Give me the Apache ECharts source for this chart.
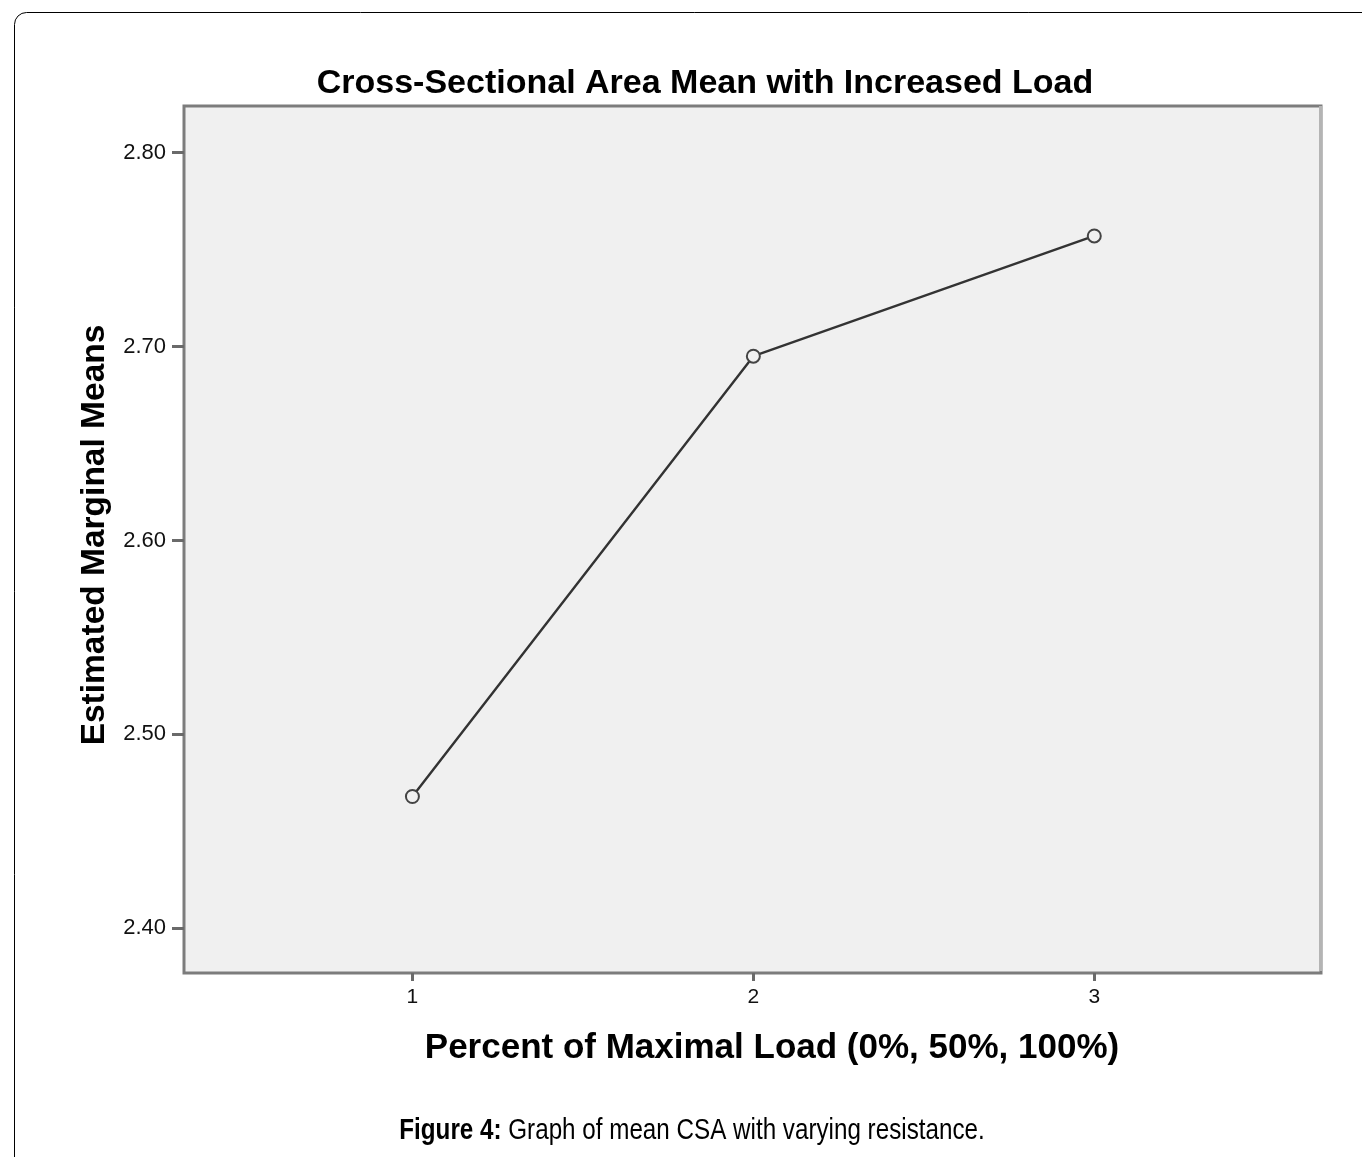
<!DOCTYPE html>
<html>
<head>
<meta charset="utf-8">
<script src="https://cdn.jsdelivr.net/npm/echarts@6/dist/echarts.min.js"></script>
<style>
html,body{margin:0;padding:0;background:#fff;}
#chart{width:1362px;height:1157px;}
</style>
</head>
<body>
<div id="chart"></div>
<script>
// ---- data ----
const categories = [1, 2, 3];
const meanValues = [2.468, 2.695, 2.757];
const yTickValues = [2.40, 2.50, 2.60, 2.70, 2.80];
const xTickValues = [1, 2, 3];

const titleText = 'Cross-Sectional Area Mean with Increased Load';
const xAxisTitle = 'Percent of Maximal Load (0%, 50%, 100%)';
const yAxisTitle = 'Estimated Marginal Means';
const captionBold = 'Figure 4:';
const captionRest = ' Graph of mean CSA with varying resistance.';

const seriesData = categories.map((c, i) => [c, meanValues[i]]);

const chart = echarts.init(document.getElementById('chart'), null, {renderer: 'canvas'});
const font = '"Liberation Sans", Arial, sans-serif';

chart.setOption({
  backgroundColor: '#ffffff',
  animation: false,
  grid: {
    left: 184, top: 106, right: 41, bottom: 184,
    show: true,
    backgroundColor: '#f0f0f0',
    borderColor: '#7c7c7c',
    borderWidth: 3
  },
  xAxis: {
    type: 'value',
    min: 0.33,
    max: 3.665,
    axisLine: {show: false},
    splitLine: {show: false},
    axisTick: {show: true, customValues: xTickValues, length: 8, inside: false,
      lineStyle: {color: '#6a6a6a', width: 3}},
    axisLabel: {show: true, customValues: xTickValues, margin: 14,
      fontFamily: font, fontSize: 21, color: '#111',
      formatter: v => String(v)}
  },
  yAxis: {
    type: 'value',
    min: 2.377,
    max: 2.824,
    axisLine: {show: false},
    splitLine: {show: false},
    axisTick: {show: true, customValues: yTickValues, length: 12, inside: false,
      lineStyle: {color: '#6a6a6a', width: 3}},
    axisLabel: {show: true, customValues: yTickValues, margin: 18,
      fontFamily: font, fontSize: 22, color: '#111',
      formatter: v => v.toFixed(2)}
  },
  series: [{
    type: 'line',
    data: seriesData,
    symbol: 'circle',
    symbolSize: 13,
    lineStyle: {color: '#333', width: 2.4},
    itemStyle: {color: '#f0f0f0', borderColor: '#444', borderWidth: 2},
    z: 3
  }],
  graphic: [
    {
      type: 'rect', left: 12, top: 10, z: -10, silent: true,
      shape: {x: 0, y: 0, width: 1500, height: 1300, r: 12},
      style: {fill: 'none', stroke: '#000', lineWidth: 1}
    },
    {
      type: 'line', silent: true, z: 10,
      shape: {x1: 1320.5, y1: 106, x2: 1320.5, y2: 971},
      style: {stroke: '#b4b4b4', lineWidth: 3}
    },
    {
      type: 'text', x: 705, y: 84, silent: true,
      style: {text: titleText, font: 'bold 34px ' + font, fill: '#000',
        align: 'center', verticalAlign: 'middle'}
    },
    {
      type: 'text', x: 772, y: 1048, silent: true,
      style: {text: xAxisTitle, font: 'bold 35px ' + font, fill: '#000',
        align: 'center', verticalAlign: 'middle'}
    },
    {
      type: 'text', x: 95, y: 535, rotation: Math.PI / 2, silent: true,
      style: {text: yAxisTitle, font: 'bold 33.5px ' + font, fill: '#000',
        align: 'center', verticalAlign: 'middle'}
    },
    {
      type: 'text', x: 692, y: 1131, scaleX: 0.835, silent: true,
      style: {
        text: '{b|' + captionBold + '}{r|' + captionRest + '}',
        align: 'center', verticalAlign: 'middle',
        rich: {
          b: {fontFamily: font, fontWeight: 'bold', fontSize: 29, fill: '#000'},
          r: {fontFamily: font, fontSize: 29, fill: '#000'}
        }
      }
    }
  ]
});
</script>
</body>
</html>
